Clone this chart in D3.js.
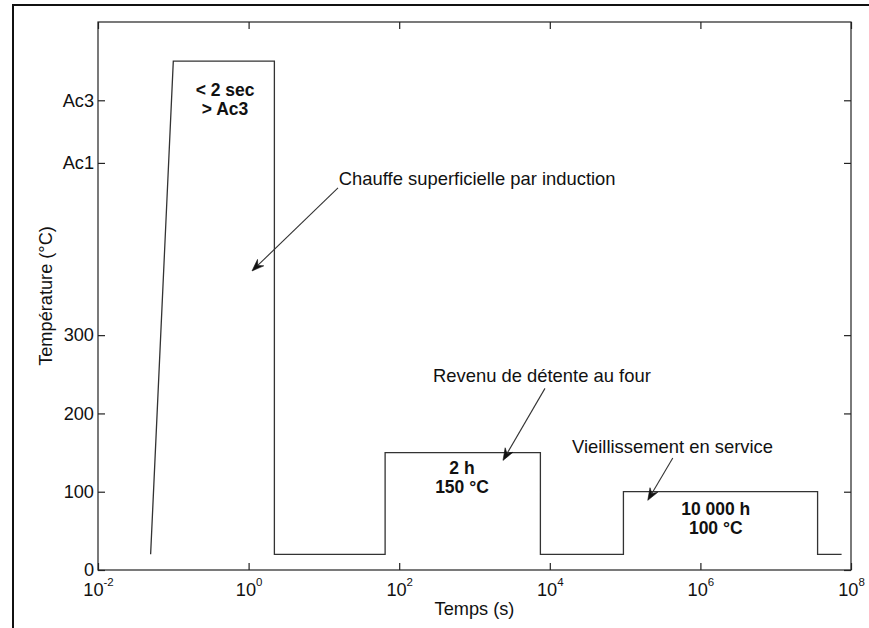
<!DOCTYPE html>
<html>
<head>
<meta charset="utf-8">
<script src="https://cdn.jsdelivr.net/npm/d3@7"></script>
<style>
  html, body { margin: 0; padding: 0; background: #fff; }
  svg { display: block; font-family: "Liberation Sans", Arial, Helvetica, sans-serif; }
</style>
</head>
<body>
<svg id="chart" width="869" height="628"></svg>
<script>
// Thermal history of the part: time (s, log scale) vs temperature (°C)
const profileTime = [0.05, 0.1, 2.2, 2.2, 65, 65, 7500, 7500, 9.5e4, 9.5e4, 3.6e7, 3.6e7, 7.5e7];
const profileTemp = [20, 650, 650, 20, 20, 150, 150, 20, 20, 100, 100, 20, 20];

// Axis ticks
const xTickExponents = [-2, 0, 2, 4, 6, 8];
const yTickValues = [0, 100, 200, 300, 520, 600];
const yTickLabels = ["0", "100", "200", "300", "Ac1", "Ac3"];

// Callouts (data coordinates: [time, temperature])
const calloutText = ["Chauffe superficielle par induction", "Revenu de détente au four", "Vieillissement en service"];
const calloutTextAt = [[15.8, 492], [281, 240], [1.97e4, 149]];
const arrowFrom = [[15.4, 488], [8630, 232], [4.3e5, 143]];
const arrowTo = [[1.11, 382], [2390, 140], [2.0e5, 89]];

// Labels inside each heating step
const stepLabels = [["< 2 sec", "> Ac3"], ["2 h", "150 °C"], ["10 000 h", "100 °C"]];
const stepLabelAt = [[0.487, 606], [682, 122], [1.6e6, 70]];

const svg = d3.select("#chart");
const box = { left: 98, right: 851, top: 22, bottom: 570 };

const x = d3.scaleLog().domain([1e-2, 1e8]).range([box.left, box.right]);
const y = d3.scaleLinear().domain([0, 700]).range([box.bottom, box.top]);

const ink = "#222";
const lineInk = "#333";
const labelSize = 18.2;

// Figure frame (left and top edges)
svg.append("path")
  .attr("d", "M13,628 V5 H869")
  .attr("fill", "none").attr("stroke", "#111").attr("stroke-width", 2);

// Axes box
svg.append("rect")
  .attr("x", box.left).attr("y", box.top)
  .attr("width", box.right - box.left).attr("height", box.bottom - box.top)
  .attr("fill", "none").attr("stroke", ink).attr("stroke-width", 1.2);

const tickLen = 7;
const xTickValues = xTickExponents.map(e => Math.pow(10, e));

function styleAxis(g) {
  g.select(".domain").remove();
  g.selectAll(".tick line").attr("stroke", ink).attr("stroke-width", 1.2);
}

// Bottom axis with 10^n labels
const gx = svg.append("g")
  .attr("transform", `translate(0,${box.bottom})`)
  .call(d3.axisBottom(x).tickValues(xTickValues).tickSize(-tickLen).tickFormat(() => ""));
styleAxis(gx);
gx.selectAll(".tick text").remove();
gx.selectAll(".tick").each(function (d, i) {
  const t = d3.select(this).append("text")
    .attr("y", 25.5)
    .attr("fill", "#111")
    .attr("font-size", labelSize)
    .attr("text-anchor", "middle");
  t.append("tspan").text("10");
  t.append("tspan").attr("font-size", 11.5).attr("dy", -10).text(xTickExponents[i]);
});

// Top mirror ticks
const gxTop = svg.append("g")
  .attr("transform", `translate(0,${box.top})`)
  .call(d3.axisTop(x).tickValues(xTickValues).tickSize(-tickLen).tickFormat(() => ""));
styleAxis(gxTop);

// Left axis
const gy = svg.append("g")
  .attr("transform", `translate(${box.left},0)`)
  .call(d3.axisLeft(y).tickValues(yTickValues).tickSize(-tickLen).tickPadding(4)
    .tickFormat((d, i) => yTickLabels[i]));
styleAxis(gy);
gy.selectAll(".tick text")
  .attr("fill", "#111").attr("font-size", labelSize)
  .attr("font-family", "Liberation Sans, Arial, sans-serif");

// Right mirror ticks
const gyRight = svg.append("g")
  .attr("transform", `translate(${box.right},0)`)
  .call(d3.axisRight(y).tickValues(yTickValues).tickSize(-tickLen).tickFormat(() => ""));
styleAxis(gyRight);

// Axis titles
svg.append("text")
  .attr("x", (box.left + box.right) / 2).attr("y", 615)
  .attr("text-anchor", "middle").attr("font-size", labelSize).attr("fill", "#111")
  .text("Temps (s)");
svg.append("text")
  .attr("transform", `translate(52,${(box.top + box.bottom) / 2}) rotate(-90)`)
  .attr("text-anchor", "middle").attr("font-size", labelSize).attr("fill", "#111")
  .text("Température (°C)");

// Temperature profile
const profile = profileTime.map((t, i) => [t, profileTemp[i]]);
svg.append("path")
  .datum(profile)
  .attr("fill", "none").attr("stroke", lineInk).attr("stroke-width", 1.3)
  .attr("d", d3.line().x(d => x(d[0])).y(d => y(d[1])));

// Step labels
stepLabels.forEach((lines, i) => {
  const t = svg.append("text")
    .attr("x", x(stepLabelAt[i][0])).attr("y", y(stepLabelAt[i][1]))
    .attr("text-anchor", "middle").attr("font-size", 17.5).attr("font-weight", "bold")
    .attr("fill", "#111");
  lines.forEach((s, k) => {
    t.append("tspan").attr("x", x(stepLabelAt[i][0])).attr("dy", k === 0 ? 0 : 19).text(s);
  });
});

// Callout texts
calloutText.forEach((s, i) => {
  svg.append("text")
    .attr("x", x(calloutTextAt[i][0])).attr("y", y(calloutTextAt[i][1]))
    .attr("font-size", 18.4).attr("fill", "#111")
    .text(s);
});

// Callout arrows with dart-shaped heads
arrowFrom.forEach((from, i) => {
  const x0 = x(from[0]), y0 = y(from[1]);
  const x1 = x(arrowTo[i][0]), y1 = y(arrowTo[i][1]);
  const ang = Math.atan2(y1 - y0, x1 - x0);
  const L = 12, W = 4.5, notch = 8;
  const ux = Math.cos(ang), uy = Math.sin(ang);
  const px = -uy, py = ux;
  const bx = x1 - ux * L, by = y1 - uy * L;
  const nx = x1 - ux * notch, ny = y1 - uy * notch;
  svg.append("line")
    .attr("x1", x0).attr("y1", y0).attr("x2", nx).attr("y2", ny)
    .attr("stroke", lineInk).attr("stroke-width", 1.1);
  svg.append("path")
    .attr("d", `M${x1},${y1} L${bx + px * W},${by + py * W} L${nx},${ny} L${bx - px * W},${by - py * W} Z`)
    .attr("fill", "#111").attr("stroke", "#111").attr("stroke-width", 0.6);
});
</script>
</body>
</html>
